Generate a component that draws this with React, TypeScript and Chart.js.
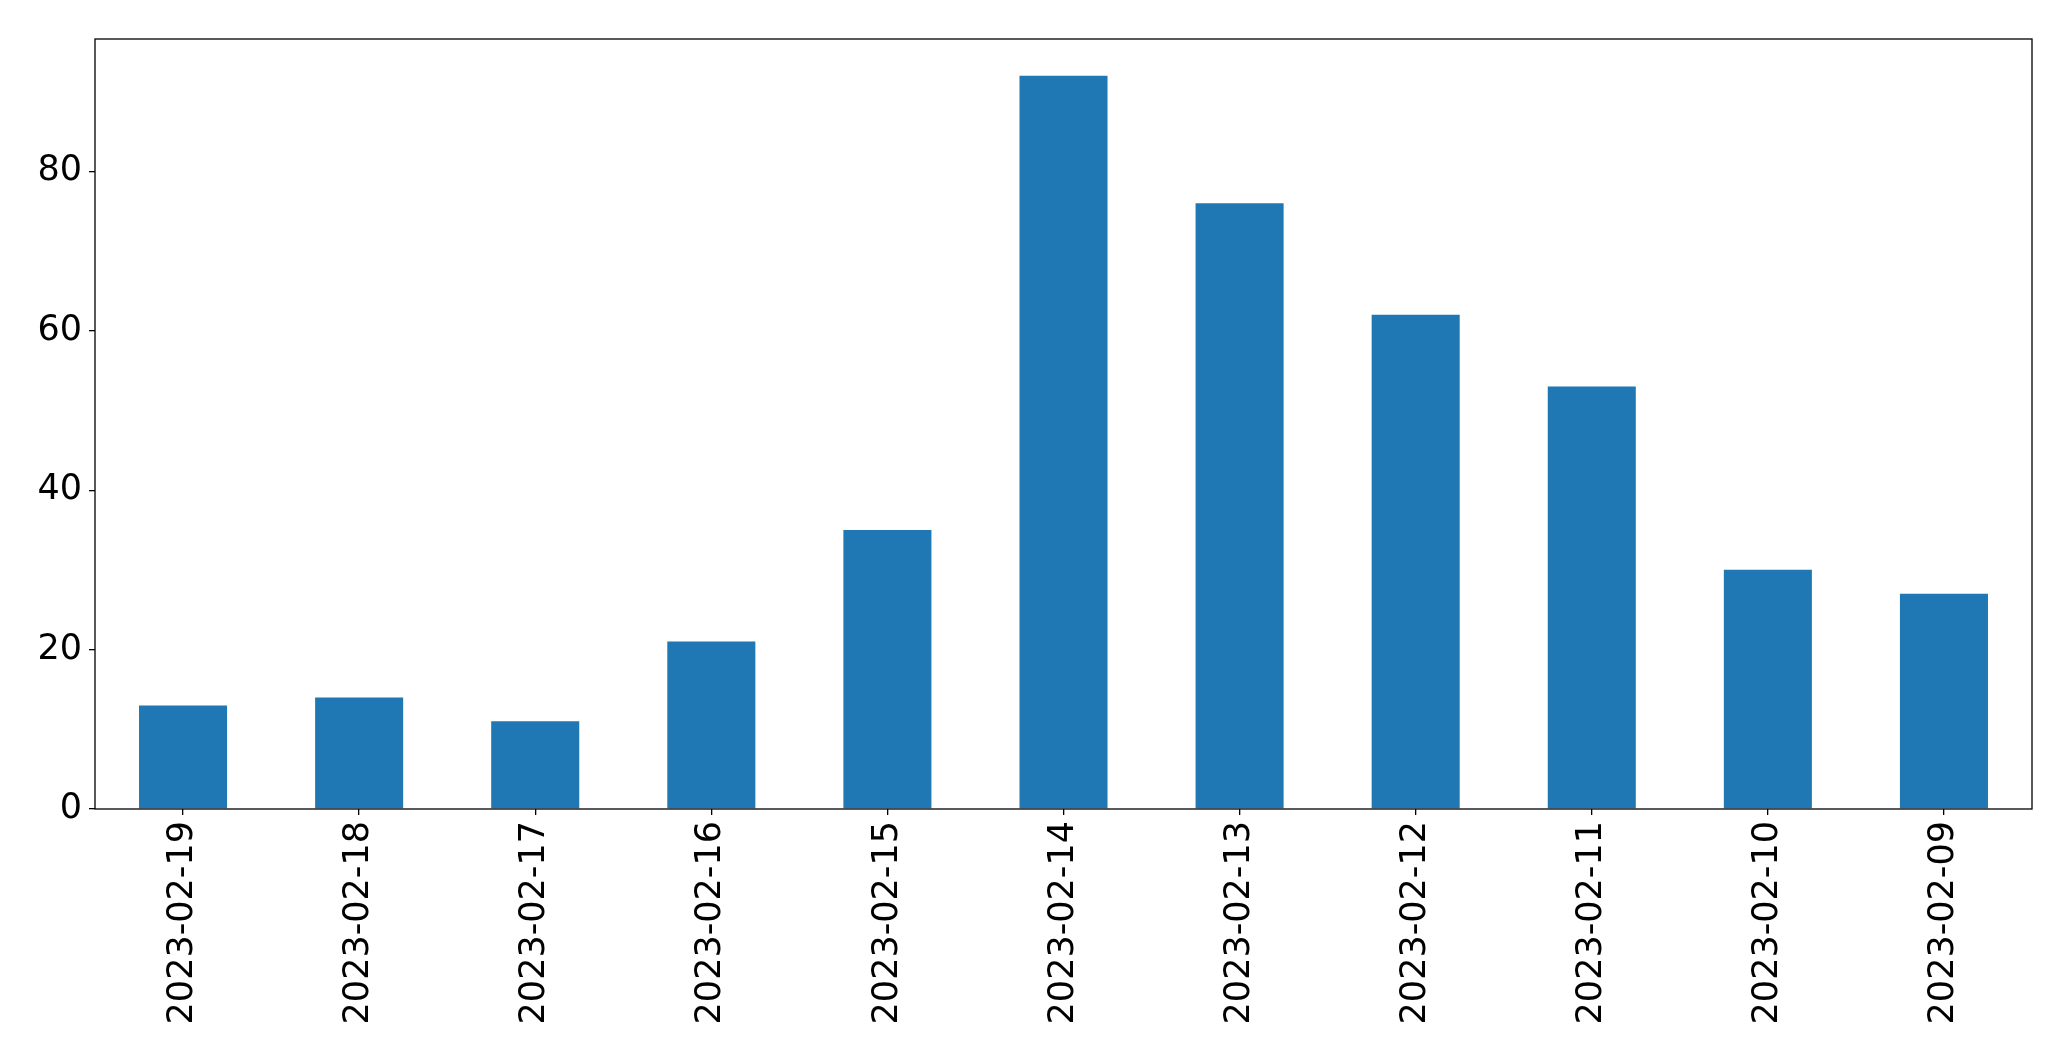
import React, { useEffect, useRef } from "react";
import { Chart, registerables } from "chart.js";

Chart.register(...registerables);

const categories = [
  "2023-02-19", "2023-02-18", "2023-02-17", "2023-02-16", "2023-02-15",
  "2023-02-14", "2023-02-13", "2023-02-12", "2023-02-11", "2023-02-10", "2023-02-09",
];
const values = [13, 14, 11, 21, 35, 92, 76, 62, 53, 30, 27];
const yTicks = [0, 20, 40, 60, 80];

const W = 2071;
const H = 1061;
const FONT = "'DejaVu Sans', sans-serif";

const framePlugin = {
  id: "frame",
  afterDraw(chart: any) {
    const { ctx, chartArea } = chart;
    ctx.save();
    ctx.strokeStyle = "#000";
    ctx.lineWidth = 1.3;
    ctx.strokeRect(chartArea.left, chartArea.top, chartArea.right - chartArea.left, chartArea.bottom - chartArea.top);
    ctx.restore();
  },
};

export default function App() {
  const ref = useRef<HTMLCanvasElement>(null);
  useEffect(() => {
    document.body.style.margin = "0";
    const chart = new Chart(ref.current!, {
      type: "bar",
      data: {
        labels: categories,
        datasets: [
          {
            data: values,
            backgroundColor: "#1f77b4",
            barPercentage: 0.5,
            categoryPercentage: 1,
          },
        ],
      },
      plugins: [framePlugin],
      options: {
        animation: false,
        responsive: false,
        devicePixelRatio: 1,
        layout: { padding: { top: 39, right: 39, left: 0, bottom: 0 } },
        plugins: { legend: { display: false }, tooltip: { enabled: false } },
        scales: {
          x: {
            type: "category",
            offset: true,
            grid: { display: true, offset: false, drawOnChartArea: false, drawTicks: true, tickLength: 6, color: "#000", lineWidth: 1.3 },
            border: { display: false },
            ticks: {
              color: "#000",
              font: { family: FONT, size: 35 },
              minRotation: 90,
              maxRotation: 90,
              autoSkip: false,
              padding: 6,
            },
            afterFit(scale: any) {
              scale.height = 252;
            },
          },
          y: {
            type: "linear",
            min: 0,
            max: 96.6,
            grid: { display: true, drawOnChartArea: false, drawTicks: true, tickLength: 6, color: "#000", lineWidth: 1.3 },
            border: { display: false },
            ticks: {
              color: "#000",
              font: { family: FONT, size: 35 },
              stepSize: 20,
              padding: 7,
            },
            afterBuildTicks(scale: any) {
              scale.ticks = yTicks.map((v) => ({ value: v }));
            },
            afterFit(scale: any) {
              scale.width = 95;
            },
          },
        },
      },
    } as any);
    return () => chart.destroy();
  }, []);
  return (
    <div style={{ position: "absolute", left: 0, top: 0, width: W, height: H, background: "#fff" }}>
      <canvas ref={ref} width={W} height={H} style={{ width: W, height: H, display: "block" }} />
    </div>
  );
}
